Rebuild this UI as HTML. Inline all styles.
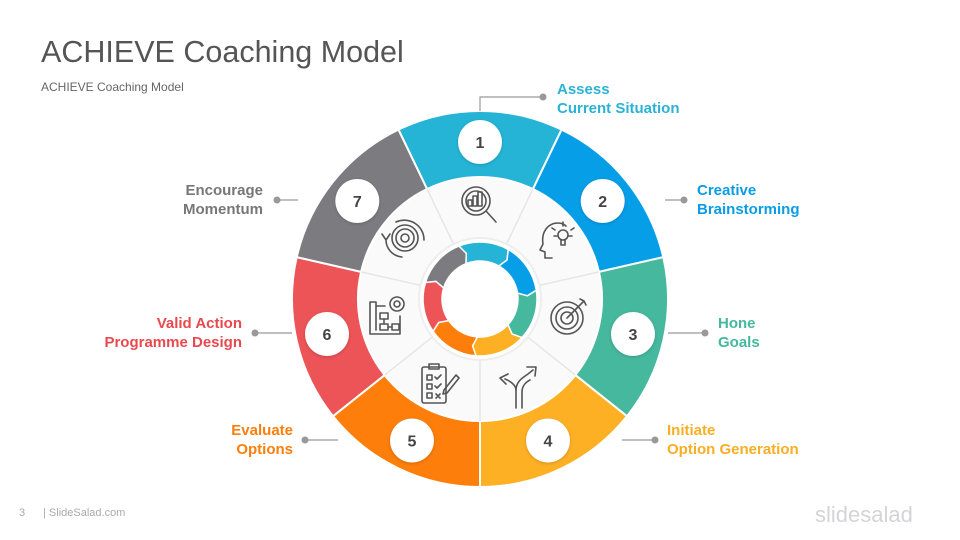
<!DOCTYPE html>
<html><head><meta charset="utf-8"><style>
body{margin:0;width:960px;height:540px;background:#fff;overflow:hidden;font-family:"Liberation Sans",sans-serif}
svg{position:absolute;left:0;top:0}
</style></head><body>
<svg width="960" height="540" viewBox="0 0 960 540" xmlns="http://www.w3.org/2000/svg" font-family="Liberation Sans, sans-serif">
<defs>
<filter id="sh" x="-30%" y="-30%" width="160%" height="160%"><feDropShadow dx="0" dy="1" stdDeviation="1.5" flood-color="#000" flood-opacity="0.18"/></filter>
<path id="seg" d="M -81.56 -169.39 A 188 188 0 0 1 81.56 -169.39 L 52.93 -109.92 A 122 122 0 0 0 -52.93 -109.92 Z"/>
<path id="arr" d="M -21.07 -52.96 A 57 57 0 0 1 28.24 -49.51 L 27.04 -39.05 L 18.83 -33.01 A 38 38 0 0 0 -14.05 -35.31 L -13.65 -45.50 Z"/>
</defs>
<text x="41" y="62" font-size="30.5" fill="#555">ACHIEVE Coaching Model</text>
<text x="41" y="91" font-size="12" fill="#666">ACHIEVE Coaching Model</text>
<text x="19" y="516" font-size="11" fill="#aaa">3</text>
<text x="43" y="516" font-size="11" fill="#aaa">| SlideSalad.com</text>
<text x="815" y="522" font-size="22" fill="#d4d4d8">slidesalad</text>

<g transform="translate(480,299)">
<circle r="122" fill="#fafafa"/>
<g stroke="#fff" stroke-width="2">
<use href="#seg" fill="#25b4d6"/>
<use href="#seg" fill="#079ee8" transform="rotate(51.43)"/>
<use href="#seg" fill="#45b89e" transform="rotate(102.86)"/>
<use href="#seg" fill="#fdb024" transform="rotate(154.29)"/>
<use href="#seg" fill="#fd7e0b" transform="rotate(205.71)"/>
<use href="#seg" fill="#ec5458" transform="rotate(257.14)"/>
<use href="#seg" fill="#7c7b80" transform="rotate(308.57)"/>
</g>
<g stroke="#e6e6e8" stroke-width="1.5">
<line x1="0" y1="-60" x2="0" y2="-122" transform="rotate(25.71)"/>
<line x1="0" y1="-60" x2="0" y2="-122" transform="rotate(77.14)"/>
<line x1="0" y1="-60" x2="0" y2="-122" transform="rotate(128.57)"/>
<line x1="0" y1="-60" x2="0" y2="-122" transform="rotate(180)"/>
<line x1="0" y1="-60" x2="0" y2="-122" transform="rotate(231.43)"/>
<line x1="0" y1="-60" x2="0" y2="-122" transform="rotate(282.86)"/>
<line x1="0" y1="-60" x2="0" y2="-122" transform="rotate(334.29)"/>
</g>
<circle r="61" fill="#fff" stroke="#eee" stroke-width="2"/>
<g stroke="#fff" stroke-width="1.5">
<use href="#arr" fill="#25b4d6"/>
<use href="#arr" fill="#079ee8" transform="rotate(51.43)"/>
<use href="#arr" fill="#45b89e" transform="rotate(102.86)"/>
<use href="#arr" fill="#fdb024" transform="rotate(154.29)"/>
<use href="#arr" fill="#fd7e0b" transform="rotate(205.71)"/>
<use href="#arr" fill="#ec5458" transform="rotate(257.14)"/>
<use href="#arr" fill="#7c7b80" transform="rotate(308.57)"/>
</g>
</g>

<g fill="none" stroke="#555" stroke-width="1.6" stroke-linecap="round" stroke-linejoin="round">
<circle cx="476" cy="201" r="14"/><circle cx="476" cy="201" r="10"/>
<path d="M486 211 L496 222"/><rect x="468" y="200" width="4" height="6"/><rect x="473" y="196" width="4" height="10"/><rect x="478" y="192" width="4" height="14"/>
<path d="M552 258 L545 258 L545 252 L540 250 L543 244 C541 232 548 223 558 223 C562 223 565 225 566 226"/>
<circle cx="563" cy="235" r="5"/><path d="M561 240 L561 245 L565 245 L565 240"/><path d="M555 230 L552 228 M571 230 L574 228 M563 226 L563 222 M557 236 L554 236 M569 236 L572 236"/>
<circle cx="567" cy="318" r="16"/><circle cx="567" cy="318" r="11"/><circle cx="567" cy="318" r="6"/>
<path d="M567 318 L584 301 M580 299 L584 301 L586 305"/>
<path d="M516 408 L516 390 C516 382 522 378 528 374 L533 370 M527 367 L536 367 L535 376"/>
<path d="M522 408 L522 392 C522 386 526 382 530 380"/>
<path d="M516 390 C516 385 510 381 505 379 M508 374 L500 378 L506 384"/>
<rect x="422" y="367" width="24" height="36" rx="2"/><rect x="429" y="364" width="10" height="5"/>
<rect x="427" y="375" width="5" height="5"/><rect x="427" y="384" width="5" height="5"/><rect x="427" y="393" width="5" height="5"/>
<path d="M435 377 L437 379 L441 375 M435 386 L437 388 L441 384 M436 394 L440 398 M440 394 L436 398 M444 390 L456 375 L459 378 L447 393 L443 394 Z"/>
<path d="M370 302 L370 334 L400 334 L400 316 M370 302 L376 302 L376 330 M376 306 L385 306"/>
<rect x="380" y="313" width="8" height="6"/><rect x="380" y="324" width="8" height="6"/><rect x="392" y="324" width="7" height="6"/><path d="M384 319 L384 324 M388 327 L392 327"/>
<circle cx="397" cy="304" r="7"/><circle cx="397" cy="304" r="3"/>
<circle cx="405" cy="238" r="9"/><circle cx="405" cy="238" r="4"/><circle cx="405" cy="238" r="13"/>
<path d="M396 222 C410 216 424 226 424 240 M386 240 C386 248 392 256 402 257 M390 234 L386 240 L382 234"/>
</g>

<g filter="url(#sh)" fill="#fff">
<circle cx="480" cy="142" r="22"/><circle cx="602.7" cy="201" r="22"/><circle cx="633" cy="334" r="22"/>
<circle cx="548" cy="440.5" r="22"/><circle cx="412" cy="440.5" r="22"/><circle cx="327" cy="334" r="22"/><circle cx="357.3" cy="201" r="22"/>
</g>
<g font-size="16" font-weight="bold" fill="#444" text-anchor="middle">
<text x="480" y="148">1</text><text x="602.7" y="207">2</text><text x="633" y="340">3</text>
<text x="548" y="446.5">4</text><text x="412" y="446.5">5</text><text x="327" y="340">6</text><text x="357.3" y="207">7</text>
</g>

<g stroke="#999" stroke-width="1.2" fill="none">
<path d="M480 111 L480 97 L543 97"/>
<path d="M665 200 L684 200"/><path d="M668 333 L705 333"/><path d="M622 440 L655 440"/>
<path d="M305 440 L338 440"/><path d="M255 333 L292 333"/><path d="M277 200 L298 200"/>
</g>
<g fill="#999">
<circle cx="543" cy="97" r="3.5"/><circle cx="684" cy="200" r="3.5"/><circle cx="705" cy="333" r="3.5"/><circle cx="655" cy="440" r="3.5"/>
<circle cx="305" cy="440" r="3.5"/><circle cx="255" cy="333" r="3.5"/><circle cx="277" cy="200" r="3.5"/>
</g>

<g font-size="15" font-weight="bold">
<text x="557" y="94" fill="#2bb2d4">Assess</text><text x="557" y="113" fill="#2bb2d4">Current Situation</text>
<text x="697" y="195" fill="#0a9de6">Creative</text><text x="697" y="214" fill="#0a9de6">Brainstorming</text>
<text x="718" y="328" fill="#45b89e">Hone</text><text x="718" y="347" fill="#45b89e">Goals</text>
<text x="667" y="435" fill="#f9ae24">Initiate</text><text x="667" y="454" fill="#f9ae24">Option Generation</text>
<g text-anchor="end">
<text x="293" y="435" fill="#fd7e0b">Evaluate</text><text x="293" y="454" fill="#fd7e0b">Options</text>
<text x="242" y="328" fill="#e8494f">Valid Action</text><text x="242" y="347" fill="#e8494f">Programme Design</text>
<text x="263" y="195" fill="#777">Encourage</text><text x="263" y="214" fill="#777">Momentum</text>
</g>
</g>
</svg>
</body></html>
